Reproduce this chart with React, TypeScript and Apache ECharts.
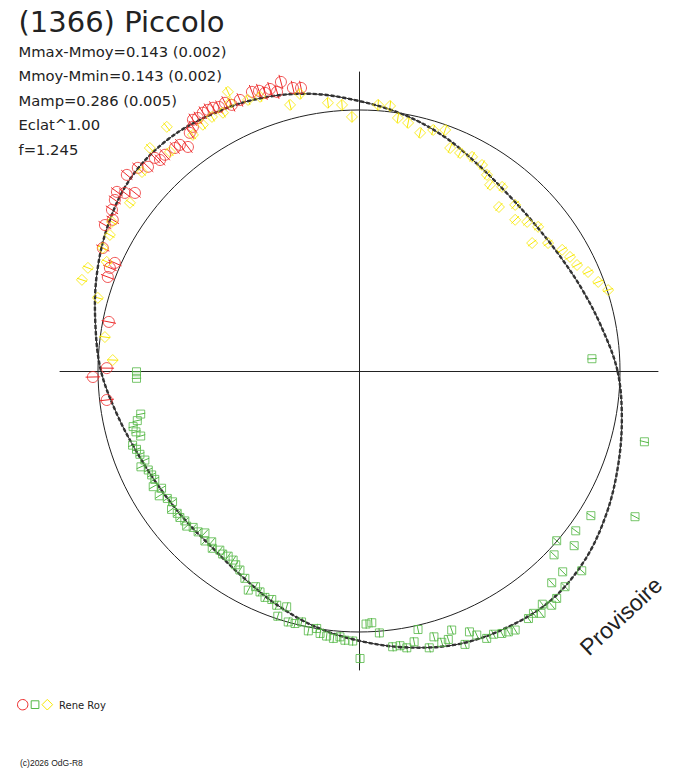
import React, { useEffect, useRef } from "react";
import * as echarts from "echarts";

// ---- texts ----
const titleText = "(1366) Piccolo";
const statLines = [
  "Mmax-Mmoy=0.143 (0.002)",
  "Mmoy-Mmin=0.143 (0.002)",
  "Mamp=0.286 (0.005)",
  "Eclat^1.00",
  "f=1.245",
];
const observerName = "Rene Roy";
const copyrightText = "(c)2026 OdG-R8";
const watermarkText = "Provisoire";

// ---- scales (units: mean radius = 1) ----
const meanRadius = 1;
const axisExtent = 1.145;

// ---- fitted curve: polar radius (mean = 1) at phase angles (deg) ----
const fitAngles = [0, 10, 20, 30, 40, 50, 60, 70, 80, 90, 100, 110, 120, 130, 140, 150, 160, 170, 180,
  190, 200, 210, 220, 230, 240, 250, 260, 270, 280, 290, 300, 310, 320, 330, 340, 350];
const fitRadii = [0.990, 0.945, 0.910, 0.886, 0.877, 0.885, 0.912, 0.955, 0.996, 1.034, 1.078, 1.111, 1.134,
  1.150, 1.144, 1.111, 1.069, 1.025, 0.988, 0.942, 0.906, 0.885, 0.877, 0.879, 0.904, 0.946, 0.992, 1.033,
  1.075, 1.113, 1.134, 1.145, 1.128, 1.094, 1.056, 1.022];

// ---- observations [x, y] (mean radius = 1) ----
const redPoints = [
  [-0.299, 1.107], [-0.253, 1.084], [-0.222, 1.084], [-0.314, 1.069], [-0.341, 1.080], [-0.360, 1.065],
  [-0.383, 1.073], [-0.410, 1.069], [-0.456, 1.038], [-0.487, 1.019], [-0.513, 1.027], [-0.536, 1.011],
  [-0.559, 1.008], [-0.579, 1.000], [-0.598, 0.989], [-0.617, 0.969], [-0.636, 0.962], [-0.636, 0.935],
  [-0.648, 0.912], [-0.655, 0.858], [-0.686, 0.866], [-0.705, 0.854], [-0.743, 0.828], [-0.762, 0.808],
  [-0.782, 0.816], [-0.808, 0.782], [-0.847, 0.778], [-0.889, 0.751], [-0.858, 0.682], [-0.897, 0.682],
  [-0.927, 0.686], [-0.935, 0.655], [-0.946, 0.617], [-0.943, 0.579], [-0.973, 0.559], [-0.981, 0.471],
  [-0.935, 0.414], [-0.954, 0.395], [-0.962, 0.360], [-0.958, 0.188], [-0.966, 0.011], [-1.019, -0.023],
  [-0.966, -0.111],
];
const yellowPoints = [
  [-1.061, 0.349], [-1.038, 0.395], [-1.000, 0.280], [-0.973, 0.130], [-0.943, 0.042], [-0.981, 0.471],
  [-0.966, 0.418], [-0.954, 0.521], [-0.946, 0.571], [-0.877, 0.644], [-0.831, 0.762], [-0.801, 0.854],
  [-0.724, 0.839], [-0.736, 0.935], [-0.636, 0.904], [-0.598, 0.943], [-0.563, 0.973], [-0.521, 0.989],
  [-0.502, 1.069], [-0.494, 1.027], [-0.425, 1.038], [-0.379, 1.050], [-0.264, 1.019], [-0.226, 1.061],
  [-0.119, 1.027], [-0.065, 1.019], [-0.027, 0.973], [0.073, 1.019], [0.119, 1.015], [0.149, 0.969],
  [0.188, 0.950], [0.234, 0.912], [0.284, 0.923], [0.330, 0.923], [0.349, 0.854], [0.387, 0.835],
  [0.433, 0.820], [0.471, 0.789], [0.490, 0.751], [0.502, 0.713], [0.548, 0.705], [0.536, 0.628],
  [0.598, 0.636], [0.598, 0.579], [0.644, 0.571], [0.686, 0.552], [0.663, 0.490], [0.724, 0.490],
  [0.778, 0.464], [0.808, 0.437], [0.835, 0.406], [0.877, 0.379], [0.916, 0.341], [0.954, 0.310],
];
const greenPoints = [
  [-0.852, -0.003], [-0.852, -0.028], [-0.836, -0.165], [-0.849, -0.190], [-0.865, -0.213], [-0.854, -0.233],
  [-0.836, -0.249], [-0.867, -0.284], [-0.852, -0.300], [-0.839, -0.319], [-0.820, -0.341], [-0.835, -0.367],
  [-0.807, -0.379], [-0.794, -0.398], [-0.782, -0.415], [-0.788, -0.443], [-0.756, -0.449], [-0.765, -0.478],
  [-0.734, -0.488], [-0.714, -0.501], [-0.718, -0.530], [-0.696, -0.545], [-0.686, -0.561], [-0.667, -0.574],
  [-0.660, -0.594], [-0.635, -0.599], [-0.616, -0.616], [-0.590, -0.620], [-0.590, -0.651], [-0.564, -0.654],
  [-0.562, -0.679], [-0.533, -0.686], [-0.522, -0.701], [-0.501, -0.709], [-0.482, -0.724], [-0.472, -0.742],
  [-0.456, -0.762], [-0.437, -0.794], [-0.424, -0.839], [-0.396, -0.826], [-0.379, -0.846], [-0.360, -0.867],
  [-0.334, -0.875], [-0.315, -0.897], [-0.277, -0.903], [-0.311, -0.939], [-0.271, -0.961], [-0.245, -0.967],
  [-0.220, -0.961], [-0.194, -0.995], [-0.162, -0.986], [-0.149, -1.005], [-0.124, -1.015], [-0.098, -1.024],
  [-0.073, -1.018], [-0.054, -1.031], [-0.024, -1.034], [0.027, -0.969], [0.049, -0.964], [0.004, -1.101],
  [0.078, -1.003], [0.129, -1.056], [0.157, -1.052], [0.183, -1.060], [0.211, -1.037], [0.226, -0.990],
  [0.269, -1.060], [0.287, -1.018], [0.317, -1.039], [0.342, -1.028], [0.355, -0.992], [0.406, -1.047],
  [0.423, -0.999], [0.451, -1.011], [0.489, -1.024], [0.515, -1.008], [0.547, -1.005], [0.572, -0.999],
  [0.598, -0.992], [0.649, -0.948], [0.668, -0.928], [0.697, -0.928], [0.702, -0.893], [0.738, -0.897],
  [0.757, -0.871], [0.738, -0.811], [0.789, -0.826], [0.780, -0.769], [0.853, -0.765], [0.747, -0.704],
  [0.824, -0.669], [0.757, -0.650], [0.830, -0.612], [0.888, -0.554], [1.057, -0.558], [1.093, -0.271],
  [0.892, 0.047],
];
// radial error (same units)
const redError = 0.028;
const yellowError = 0.02;
const greenError = 0.018;

const RED = "#ee2a2a";
const GREEN = "#55b846";
const YELLOW = "#f8e800";
const INK = "#222222";

function errorSeries(data: number[][], err: number, color: string) {
  return {
    type: "custom",
    coordinateSystem: "cartesian2d",
    silent: true,
    clip: false,
    data,
    encode: { x: 0, y: 1 },
    renderItem: (_p: any, api: any) => {
      const x = api.value(0);
      const y = api.value(1);
      const r = Math.hypot(x, y) || 1;
      const ux = x / r;
      const uy = y / r;
      const a = api.coord([x - err * ux, y - err * uy]);
      const b = api.coord([x + err * ux, y + err * uy]);
      return {
        type: "line",
        shape: { x1: a[0], y1: a[1], x2: b[0], y2: b[1] },
        style: { stroke: color, lineWidth: 1 },
      };
    },
  };
}

function scatterSeries(data: number[][], symbol: string, size: number, color: string) {
  return {
    type: "scatter",
    silent: true,
    clip: false,
    data,
    symbol,
    symbolSize: size,
    itemStyle: { color: "rgba(0,0,0,0)", borderColor: color, borderWidth: 1 },
    emphasis: { disabled: true },
  };
}

// closed, smoothed fitted curve drawn through the axis scales
function fitCurveSeries(data: number[][], style: any) {
  return {
    type: "custom",
    coordinateSystem: "cartesian2d",
    silent: true,
    clip: false,
    data,
    encode: { x: 0, y: 1 },
    renderItem: (params: any, api: any) => {
      if (params.dataIndex !== 0) return null;
      const pts = data.map((d) => api.coord(d));
      return {
        type: "polygon",
        shape: { points: pts, smooth: 0.35 },
        style: { fill: "none", ...style },
      };
    },
  };
}

export default function App() {
  const ref = useRef<HTMLDivElement>(null);
  useEffect(() => {
    if (!ref.current) return;
    const chart = echarts.init(ref.current, undefined, { renderer: "svg" });
    // polar (angle, radius) -> cartesian table for the curve
    const fitData = fitAngles.map((a, i) => {
      const t = (a * Math.PI) / 180;
      return [fitRadii[i] * Math.cos(t), fitRadii[i] * Math.sin(t)];
    });
    const hidden = { show: false };
    const option: any = {
      animation: false,
      backgroundColor: "#ffffff",
      grid: { left: 60, top: 72, width: 598, height: 598 },
      xAxis: {
        type: "value", min: -axisExtent, max: axisExtent,
        axisLine: { onZero: true, lineStyle: { color: INK, width: 1 } },
        axisTick: hidden, axisLabel: hidden, splitLine: hidden,
      },
      yAxis: {
        type: "value", min: -axisExtent, max: axisExtent,
        axisLine: { onZero: true, lineStyle: { color: INK, width: 1 } },
        axisTick: hidden, axisLabel: hidden, splitLine: hidden,
      },
      polar: { center: [359, 371], radius: 261 },
      angleAxis: {
        type: "value", min: 0, max: 360, startAngle: 0, clockwise: false,
        axisLine: { show: true, lineStyle: { color: INK, width: 1 } },
        axisTick: hidden, axisLabel: hidden, splitLine: hidden,
      },
      radiusAxis: {
        type: "value", min: 0, max: meanRadius,
        axisLine: hidden, axisTick: hidden, axisLabel: hidden, splitLine: hidden,
      },
      series: [
        errorSeries(redPoints, redError, RED),
        errorSeries(yellowPoints, yellowError, YELLOW),
        errorSeries(greenPoints, greenError, GREEN),
        scatterSeries(redPoints, "circle", 11, RED),
        scatterSeries(yellowPoints, "diamond", 11, YELLOW),
        scatterSeries(greenPoints, "rect", 8, GREEN),
        fitCurveSeries(fitData, { stroke: INK, lineWidth: 1 }),
        fitCurveSeries(fitData, { stroke: "#333333", lineWidth: 2.4, lineDash: [4, 2] }),
      ],
      graphic: [
        {
          type: "text", x: 18.5, y: 22,
          style: { text: titleText, fontSize: 29, fontFamily: "DejaVu Sans", fill: INK, align: "left", verticalAlign: "middle" },
        },
        ...statLines.map((t, i) => ({
          type: "text", x: 18.5, y: 51.3 + i * 24.55,
          style: { text: t, fontSize: 14.75, fontFamily: "DejaVu Sans", fill: INK, align: "left", verticalAlign: "middle" },
        })),
        {
          type: "text", x: 621, y: 616, rotation: (43 * Math.PI) / 180,
          style: { text: watermarkText, fontSize: 23, fontFamily: "Liberation Sans", fill: INK, align: "center", verticalAlign: "middle" },
        },
        { type: "circle", shape: { cx: 22.7, cy: 704.7, r: 5.2 }, style: { fill: "none", stroke: RED, lineWidth: 1 } },
        { type: "rect", shape: { x: 31.2, y: 700.8, width: 7.7, height: 7.7 }, style: { fill: "none", stroke: GREEN, lineWidth: 1 } },
        {
          type: "polygon",
          shape: { points: [[42, 704.7], [47.3, 699.4], [52.6, 704.7], [47.3, 710]] },
          style: { fill: "none", stroke: YELLOW, lineWidth: 1 },
        },
        {
          type: "text", x: 59, y: 705.5,
          style: { text: observerName, fontSize: 10, fontFamily: "DejaVu Sans", fill: INK, align: "left", verticalAlign: "middle" },
        },
        {
          type: "text", x: 20, y: 763,
          style: { text: copyrightText, fontSize: 8.5, fontFamily: "Liberation Sans", fill: INK, align: "left", verticalAlign: "middle" },
        },
      ],
    };
    chart.setOption(option);
    return () => chart.dispose();
  }, []);
  return (
    <div
      ref={ref}
      style={{ position: "fixed", left: 0, top: 0, width: 688, height: 768, background: "#fff" }}
    />
  );
}
